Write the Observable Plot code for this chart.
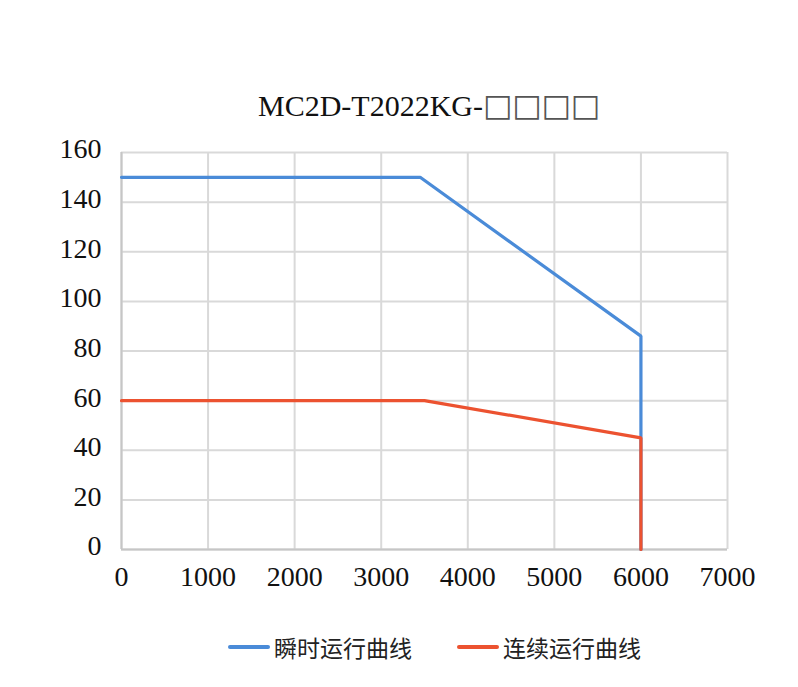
<!DOCTYPE html>
<html>
<head>
<meta charset="utf-8">
<script src="https://cdn.jsdelivr.net/npm/d3@7"></script>
<script src="https://cdn.jsdelivr.net/npm/@observablehq/plot@0.6"></script>
<style>
  html, body { margin: 0; padding: 0; background: #fff; }
  #wrap { position: relative; width: 798px; height: 687px; overflow: hidden; }
  #chart { position: absolute; left: 0; top: 0; }
  #title { position: absolute; left: 258px; top: 90px; font-family: "Liberation Serif", serif; font-size: 30px; line-height: 1; color: #111; white-space: nowrap; }
  #title .box { font-family: "DejaVu Sans", sans-serif; font-size: 31px; color: #555; }
  .leg { position: absolute; top: 633px; font-family: "Noto Sans CJK SC", sans-serif; font-size: 23px; line-height: 28px; color: #222; white-space: nowrap; display: flex; align-items: center; }
  .leg .sw { display: inline-block; width: 42px; height: 4px; border-radius: 2px; margin-right: 4px; }
</style>
</head>
<body>
<div id="wrap">
  <div id="chart"></div>
  <div id="title"></div>
  <div class="leg" id="leg1" style="left:228px"></div>
  <div class="leg" id="leg2" style="left:457px"></div>
</div>
<script>
// ---- data ----
const titleMain = "MC2D-T2022KG-";
const titleBoxes = "□□□□";
const seriesNames = ["瞬时运行曲线", "连续运行曲线"];
const seriesColors = ["#4a8bd8", "#ec5230"];
const instSpeed = [0, 3450, 6000, 6000];
const instTorque = [150, 150, 86, 0];
const contSpeed = [0, 3500, 6000, 6000];
const contTorque = [60, 60, 45, 0];
const xTicks = [0, 1000, 2000, 3000, 4000, 5000, 6000, 7000];
const yTicks = [0, 20, 40, 60, 80, 100, 120, 140, 160];

const inst = instSpeed.map((s, i) => ({speed: s, torque: instTorque[i]}));
const cont = contSpeed.map((s, i) => ({speed: s, torque: contTorque[i]}));

const chart = Plot.plot({
  width: 798,
  height: 687,
  marginTop: 152,
  marginBottom: 138,
  marginLeft: 121,
  marginRight: 71,
  style: {fontFamily: "Liberation Serif, serif", fontSize: "28px", color: "#111", background: "#fff"},
  x: {domain: [0, 7000], ticks: xTicks, label: null},
  y: {domain: [0, 160], ticks: yTicks, label: null},
  marks: [
    Plot.gridX(xTicks, {stroke: "#d9d9d9", strokeOpacity: 1, strokeWidth: 2}),
    Plot.gridY(yTicks, {stroke: "#d9d9d9", strokeOpacity: 1, strokeWidth: 2}),
    Plot.ruleX([0], {stroke: "#c6c6c6", strokeWidth: 2}),
    Plot.ruleY([0], {stroke: "#c6c6c6", strokeWidth: 2}),
    Plot.axisX(xTicks, {tickSize: 0, tickPadding: 17, fontSize: 28, label: null, tickFormat: d => String(d)}),
    Plot.axisY(yTicks, {tickSize: 0, tickPadding: 20, fontSize: 28, dy: -3, label: null, tickFormat: d => String(d)}),
    Plot.line(inst, {x: "speed", y: "torque", stroke: seriesColors[0], strokeWidth: 3.2, strokeLinejoin: "miter"}),
    Plot.line(cont, {x: "speed", y: "torque", stroke: seriesColors[1], strokeWidth: 3.2, strokeLinejoin: "miter"})
  ]
});
document.getElementById("chart").appendChild(chart);

const t = document.getElementById("title");
t.appendChild(document.createTextNode(titleMain));
const b = document.createElement("span");
b.className = "box";
b.textContent = titleBoxes;
t.appendChild(b);

["leg1", "leg2"].forEach((id, i) => {
  const el = document.getElementById(id);
  const sw = document.createElement("span");
  sw.className = "sw";
  sw.style.background = seriesColors[i];
  el.appendChild(sw);
  el.appendChild(document.createTextNode(seriesNames[i]));
});
</script>
</body>
</html>
